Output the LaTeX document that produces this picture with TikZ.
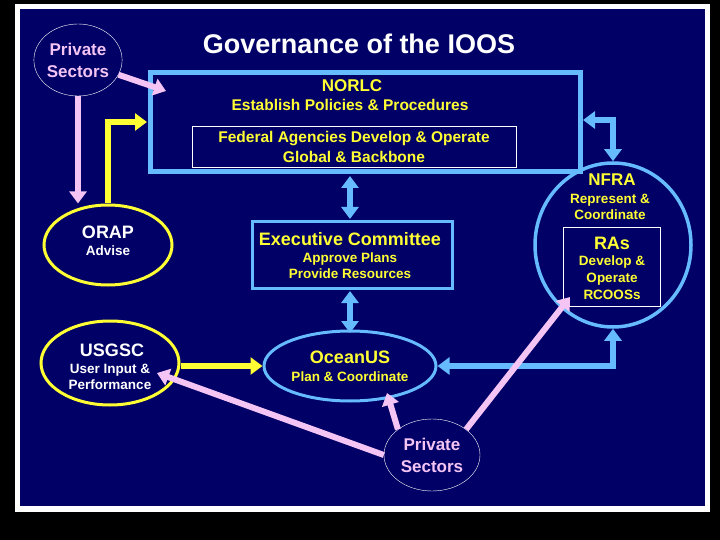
\documentclass[tikz,border=0pt]{standalone}
\usepackage{fontspec}
\setmainfont{Liberation Sans}
\usetikzlibrary{arrows.meta,shapes.geometric}
\definecolor{navy}{HTML}{000066}
\definecolor{lblue}{HTML}{66BBFF}
\definecolor{pinky}{HTML}{F4C4F4}
\definecolor{yel}{HTML}{FFFF33}
\begin{document}
\begin{tikzpicture}[x=1pt,y=-1pt,
  yt/.style={text=yel,font=\bfseries\fontsize{15.5}{20}\selectfont,align=center},
  sm/.style={text=yel,font=\bfseries\fontsize{13.5}{16}\selectfont,align=center},
  wt/.style={text=white,font=\bfseries\fontsize{18}{20}\selectfont},
  ps/.style={draw=white,line width=0.4pt,ellipse,text=pinky,font=\bfseries\fontsize{17}{22}\selectfont,align=center},
  pk/.style={draw=pinky,line width=6pt,-{Triangle[length=12pt,width=17pt]}},
  bl/.style={draw=lblue,line width=6pt,{Triangle[length=12pt,width=17pt]}-{Triangle[length=12pt,width=17pt]}},
  yl/.style={draw=yel,line width=6pt,-{Triangle[length=12pt,width=17pt]}}]
\useasboundingbox (0,0) rectangle (720,540);
\fill[black] (0,0) rectangle (720,540);
\fill[white] (15,4) rectangle (710,512);
\fill[navy] (20,9) rectangle (705,506);
\node[text=white,font=\bfseries\fontsize{27}{30}\selectfont] (title) at (359,44) {Governance of the IOOS};
% NORLC
\draw[lblue,line width=5pt] (150,73) rectangle (580,172);
\node (norlc) at (365,122.5) [minimum width=430pt,minimum height=99pt] {};
\node[yt,font=\bfseries\fontsize{17}{20}\selectfont] (norlct) at (352,86) {NORLC};
\node[yt] (norlcs) at (350,105) {Establish Policies \& Procedures};
\node[draw=white,line width=1pt,yt,minimum width=324pt,minimum height=41pt] (fed) at (354,147) {Federal Agencies Develop \& Operate\\Global \& Backbone};
% Private sectors top
\node[ps,minimum width=84pt,minimum height=72pt,inner sep=0pt] (ps1) at (78,60) {Private\\Sectors};
% ORAP
\node[draw=yel,line width=3pt,ellipse,minimum width=128pt,minimum height=80pt] (orap) at (108,245) {};
\node[wt] at (108,232) {ORAP};
\node[text=white,font=\bfseries\fontsize{13.5}{16}\selectfont] at (108,251) {Advise};
% Exec
\node[draw=lblue,line width=3pt,minimum width=200pt,minimum height=66pt] (exec) at (352,255) {};
\node[yt,font=\bfseries\fontsize{18}{20}\selectfont] at (350,239) {Executive Committee};
\node[sm] at (350,266) {Approve Plans\\Provide Resources};
% OceanUS
\node[draw=lblue,line width=3pt,ellipse,minimum width=172pt,minimum height=70pt] (ocean) at (350,366) {};
\node[yt,font=\bfseries\fontsize{18}{20}\selectfont] at (350,357) {OceanUS};
\node[sm] at (350,377) {Plan \& Coordinate};
% USGSC
\node[draw=yel,line width=3pt,ellipse,minimum width=138pt,minimum height=84pt] (usgsc) at (110,363) {};
\node[wt] at (112,350) {USGSC};
\node[text=white,font=\bfseries\fontsize{13.5}{16}\selectfont,align=center] at (110,377) {User Input \&\\Performance};
% NFRA
\node[draw=lblue,line width=3.5pt,ellipse,minimum width=156pt,minimum height=164pt] (nfra) at (613,245) {};
\node[yt,font=\bfseries\fontsize{17}{20}\selectfont] at (612,180) {NFRA};
\node[sm] at (610,207) {Represent \&\\Coordinate};
\node[draw=white,line width=1pt,minimum width=97pt,minimum height=78pt] (ras) at (612,267) {};
\node[yt,font=\bfseries\fontsize{18}{20}\selectfont] at (612,243) {RAs};
\node[sm,font=\bfseries\fontsize{13.5}{17}\selectfont] at (612,278) {Develop \&\\Operate\\RCOOSs};
% Private sectors bottom
\node[ps,minimum width=96pt,minimum height=72pt,inner sep=0pt] (ps2) at (432,455) {Private\\Sectors};
% connectors
\coordinate (c1) at (350,176);
\coordinate (c2) at (350,219);
\coordinate (c3) at (350,291);
\coordinate (c4) at (350,333);
\draw[pk] (ps1.-20) -- (166,91);
\draw[pk] (ps1.south) -- (orap.north -| ps1.south);
\draw[yl] (orap.north) |- (147,122);
\draw[bl] (c1) -- (c2);
\draw[bl] (c3) -- (c4);
\draw[bl] (583,120) -| (nfra.north);
\draw[bl] (nfra.south) |- (ocean.east);
\draw[yl] (usgsc.east |- ocean.west) -- (ocean.west);
\draw[pk] (ps2.west) -- (157,373);
\draw[pk] (ps2.north west) -- (387,393);
\draw[pk] (ps2.north east) -- (570,297);
\end{tikzpicture}
\end{document}
